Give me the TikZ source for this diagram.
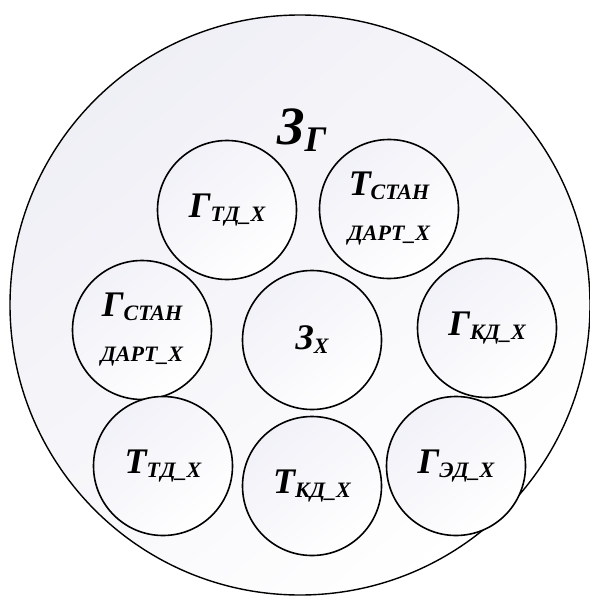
\documentclass[tikz,border=0pt]{standalone}
\usepackage{fontspec}
\setmainfont{Liberation Serif}
\newcommand\mylbl[2]{{\fontsize{36}{40}\selectfont #1}\raisebox{-4pt}{\fontsize{22}{26}\selectfont #2}}
\newcommand\mysub[1]{{\fontsize{22}{26}\selectfont #1}}
\definecolor{lav}{RGB}{239,239,246}
\definecolor{lavs}{RGB}{241,241,248}
\begin{document}
\begin{tikzpicture}[x=1pt,y=-1pt,
  bigc/.style={circle,draw=black,line width=1.4pt,minimum size=580pt,inner sep=0pt,
    top color=lav,bottom color=white,shading angle=40},
  smallc/.style={circle,draw=black,line width=1.6pt,minimum size=139pt,inner sep=0pt,
    top color=lavs,bottom color=white,shading angle=40,align=center,
    font=\fontsize{22}{45}\selectfont\bfseries\itshape},
  lbl/.style={inner sep=0pt,font=\bfseries\itshape}]
\fill[white] (0,0) rectangle (589,596);
\useasboundingbox (0,0) rectangle (589,596);
\node[bigc] (outer) at (300,305) {};
\node[lbl,anchor=base west] (zg) at (277,145) {{\fontsize{54}{56}\selectfont З}\raisebox{-7pt}{\fontsize{36}{38}\selectfont Г}};
\node[smallc] (gtd) at (227,210) {\mylbl{Г}{ТД\_Х}};
\node[smallc] (tstan) at (389,209) {\mylbl{Т}{СТАН}\\\mysub{ДАРТ\_Х}};
\node[smallc] (gstan) at (142,330) {\mylbl{Г}{СТАН}\\\mysub{ДАРТ\_Х}};
\node[smallc] (zx) at (312,340) {\mylbl{З}{Х}};
\node[smallc] (gkd) at (487,328) {\mylbl{Г}{КД\_Х}};
\node[smallc] (ttd) at (163,466) {\mylbl{Т}{ТД\_Х}};
\node[smallc] (tkd) at (312,486) {\mylbl{Т}{КД\_Х}};
\node[smallc] (ged) at (456,466) {\mylbl{Г}{ЭД\_Х}};
\end{tikzpicture}
\end{document}
